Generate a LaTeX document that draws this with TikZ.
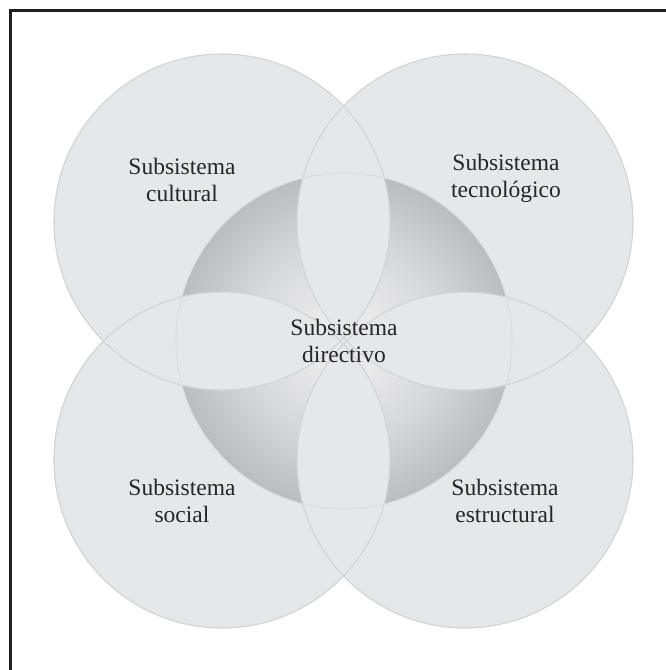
\documentclass[tikz,border=0pt]{standalone}
\usepackage{fontspec}
\setmainfont{Liberation Serif}
\definecolor{circfill}{HTML}{E6E7E9}
\definecolor{circline}{HTML}{D2D3D5}
\definecolor{framecol}{HTML}{1E1E1E}
\definecolor{textcol}{HTML}{25252B}
\definecolor{shadein}{HTML}{EAEAEB}
\definecolor{shademid}{HTML}{D6D7D9}
\definecolor{shadeout}{HTML}{BBBCBE}
\pgfdeclareradialshading{centreshade}{\pgfpointorigin}{color(0bp)=(shadein); color(5bp)=(shadein); color(15bp)=(shademid); color(25bp)=(shadeout); color(50bp)=(shadeout)}
\begin{document}
\begin{tikzpicture}[x=1pt,y=-1pt,
  ring/.style={circle, minimum size=336pt, inner sep=0pt, draw=circline, line width=1.1pt},
  label/.style={align=center, font=\fontsize{23.5}{27}\selectfont, text=textcol}]
\useasboundingbox (0,0) rectangle (666,670);
\fill[white] (0,0) rectangle (666,670);
% outer circles filled
\foreach \p in {(222,222),(465,222),(222,460),(465,460)}
  \fill[circfill] \p circle (168);
% central gradient circle
\shade[shading=centreshade] (344,341) circle (168);
% lenses between adjacent outer circles
\begin{scope}\clip (222,222) circle (168); \fill[circfill] (465,222) circle (168); \fill[circfill] (222,460) circle (168); \end{scope}
\begin{scope}\clip (465,460) circle (168); \fill[circfill] (465,222) circle (168); \fill[circfill] (222,460) circle (168); \end{scope}
% outlines as named nodes
\node[ring] (cult) at (222,222) {};
\node[ring] (tec) at (465,222) {};
\node[ring] (soc) at (222,460) {};
\node[ring] (est) at (465,460) {};
\node[ring, draw=circline!80] (dir) at (344,341) {};
% labels
\node[label] (tcult) at (182,180) {Subsistema\\cultural};
\node[label] (ttec) at (506,178) {Subsistema\\tecnológico};
\node[label] (tdir) at (344,341) {Subsistema\\directivo};
\node[label] (tsoc) at (182,501) {Subsistema\\social};
\node[label] (test) at (505,501) {Subsistema\\estructural};
% frame (top and left edges)
\draw[framecol, line width=3pt] (10.5,670) -- (10.5,10.5) -- (666,10.5);
\end{tikzpicture}
\end{document}
